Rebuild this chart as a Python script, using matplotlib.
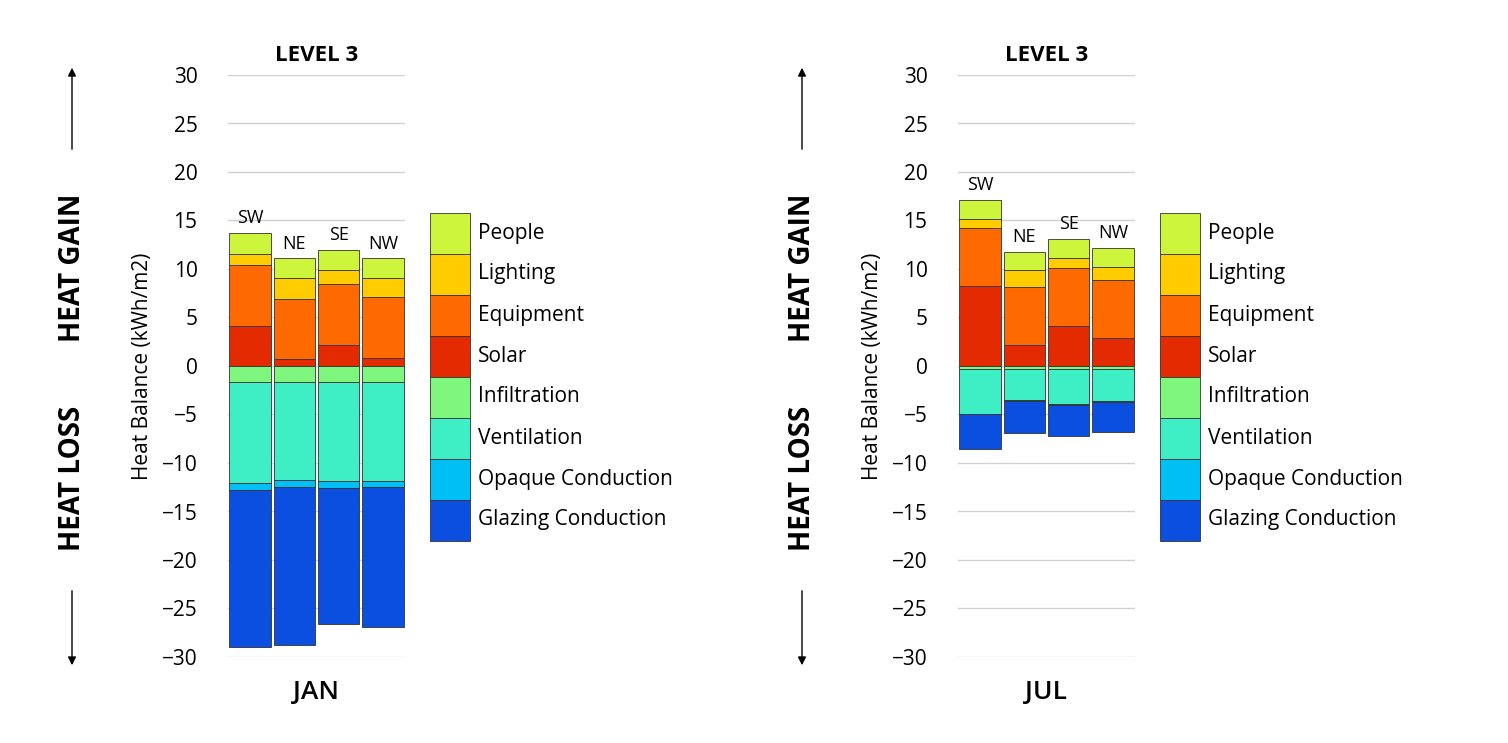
import matplotlib

matplotlib.use("Agg")
import matplotlib.pyplot as plt
from matplotlib.patches import Rectangle, FancyArrowPatch
import numpy as np

plt.rcParams["font.family"] = ["Open Sans", "DejaVu Sans"]

ORIENT = ["SW", "NE", "SE", "NW"]
GAINS = ["Solar", "Equipment", "Lighting", "People"]
LOSSES = ["Infiltration", "Ventilation", "Opaque Conduction", "Glazing Conduction"]
LEGEND = ["People", "Lighting", "Equipment", "Solar", "Infiltration", "Ventilation",
          "Opaque Conduction", "Glazing Conduction"]
COLORS = {"People": "#ccf53c", "Lighting": "#ffcc00", "Equipment": "#ff6a00",
          "Solar": "#e32a00", "Infiltration": "#7ff77f", "Ventilation": "#3eefc6",
          "Opaque Conduction": "#00bff5", "Glazing Conduction": "#0a4fe0"}

# cumulative stack tops (kWh/m2), per orientation
jan_gain = {"Solar": [4.1, 0.7, 2.2, 0.8], "Equipment": [10.4, 6.9, 8.5, 7.1],
            "Lighting": [11.5, 9.1, 9.9, 9.1], "People": [13.7, 11.1, 12.0, 11.1]}
jan_loss = {"Infiltration": [-1.6, -1.6, -1.6, -1.6], "Ventilation": [-12.1, -11.8, -11.9, -11.9],
            "Opaque Conduction": [-12.8, -12.5, -12.6, -12.5],
            "Glazing Conduction": [-29.0, -28.8, -26.6, -26.9]}
jul_gain = {"Solar": [8.2, 2.2, 4.1, 2.9], "Equipment": [14.2, 8.1, 10.1, 8.9],
            "Lighting": [15.2, 9.9, 11.1, 10.2], "People": [17.1, 11.8, 13.1, 12.2]}
jul_loss = {"Infiltration": [-0.3, -0.3, -0.3, -0.3], "Ventilation": [-4.9, -3.5, -3.9, -3.6],
            "Opaque Conduction": [-5.0, -3.6, -4.0, -3.7],
            "Glazing Conduction": [-8.6, -6.9, -7.2, -6.8]}

W, H = 1508, 743
fig = plt.figure(figsize=(W / 100, H / 100), dpi=100)


def fx(px):
    return px / W


def fy(py):
    return 1 - py / H


def panel(x0, month, gain, loss):
    ax = fig.add_axes([fx(x0), fy(657), fx(177), fy(75) - fy(657)])
    x = np.arange(4)
    for stack, names in ((gain, GAINS), (loss, LOSSES)):
        prev = np.zeros(4)
        for n in names:
            top = np.array(stack[n])
            ax.bar(x, top - prev, bottom=prev, width=0.94, color=COLORS[n],
                   edgecolor="#333333", linewidth=0.6, zorder=3)
            prev = top
    for i, o in enumerate(ORIENT):
        ax.text(i, gain["People"][i] + 0.6, o, ha="center", va="bottom", fontsize=13)
    ax.set_ylim(-30, 30)
    ax.set_xlim(-0.5, 3.5)
    ax.set_yticks(range(-30, 31, 5))
    ax.tick_params(axis="y", length=0, labelsize=15, pad=22)
    ax.set_xticks([])
    ax.grid(axis="y", color="#d0d0d0", lw=1, zorder=0)
    for s in ax.spines.values():
        s.set_visible(False)
    ax.set_ylabel("Heat Balance (kWh/m2)", fontsize=15, labelpad=6)
    ax.set_title("LEVEL 3", fontsize=16, fontweight="bold", pad=10)
    fig.text(fx(x0 + 88), fy(692), month, ha="center", va="center", fontsize=19,
             fontweight="semibold")
    # side arrows and labels
    ax_x = fx(x0 - 156)
    fig.text(ax_x, fy(268), "HEAT GAIN", rotation=90, ha="center", va="center",
             fontsize=20, fontweight="bold")
    fig.text(ax_x, fy(478), "HEAT LOSS", rotation=90, ha="center", va="center",
             fontsize=20, fontweight="bold")
    for ya, yb in ((152, 65), (588, 668)):
        fig.add_artist(FancyArrowPatch((ax_x, fy(ya)), (ax_x, fy(yb)), transform=fig.transFigure,
                                       arrowstyle="-|>", mutation_scale=12, color="black", lw=1))
    # legend
    lx = x0 + 202
    for k, n in enumerate(LEGEND):
        top = 213 + k * 41
        fig.add_artist(Rectangle((fx(lx), fy(top + 41)), fx(40), fy(top) - fy(top + 41),
                                 transform=fig.transFigure, facecolor=COLORS[n],
                                 edgecolor="#333333", lw=0.6))
        fig.text(fx(lx + 48), fy(top + 20), n, ha="left", va="center", fontsize=15)


panel(228, "JAN", jan_gain, jan_loss)
panel(958, "JUL", jul_gain, jul_loss)

fig.savefig("out.png", dpi=100)
